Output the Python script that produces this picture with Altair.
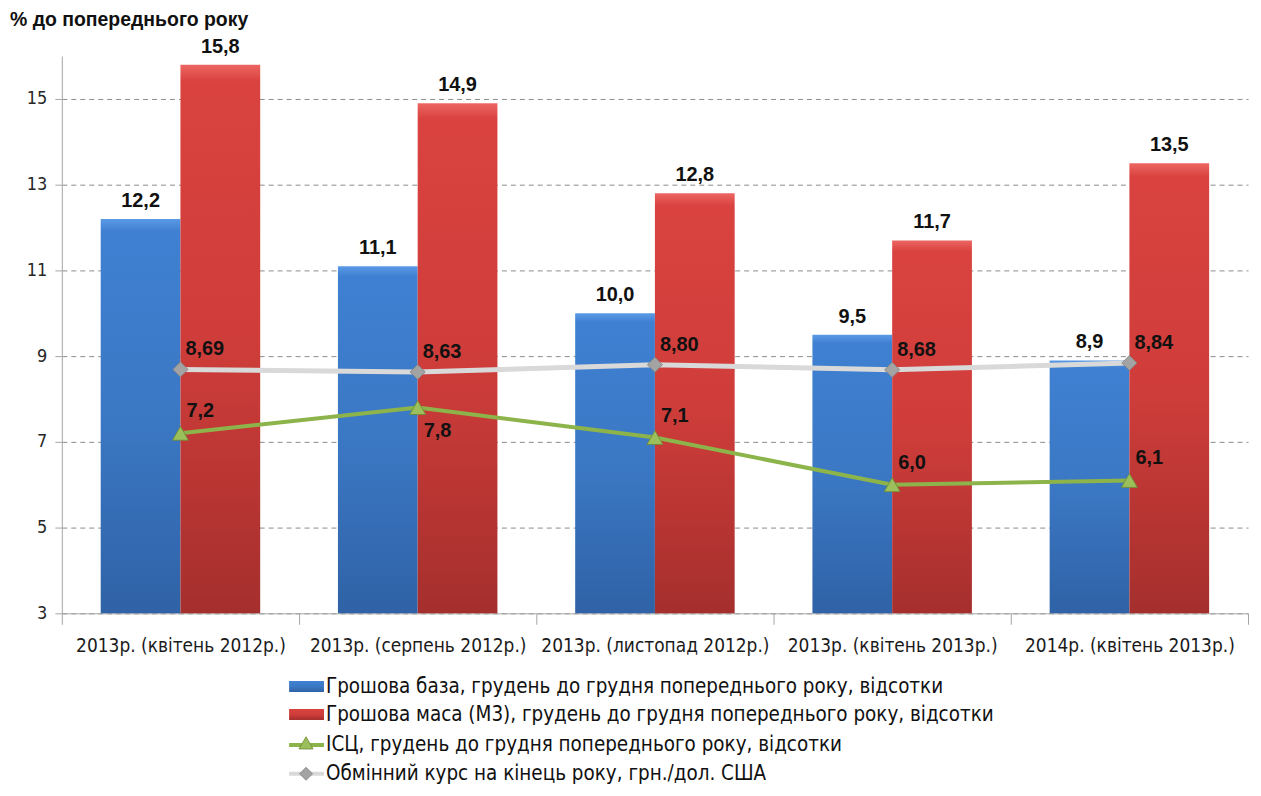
import altair as alt
import pandas as pd

categories = [
    "2013р. (квітень  2012р.)",
    "2013р. (серпень 2012р.)",
    "2013р. (листопад  2012р.)",
    "2013р. (квітень  2013р.)",
    "2014р. (квітень  2013р.)",
]
series_names = [
    "Грошова база, грудень до грудня попереднього року, відсотки",
    "Грошова маса (М3), грудень до грудня попереднього року, відсотки",
    "ІСЦ,  грудень до грудня попереднього року, відсотки",
    "Обмінний курс на кінець року, грн./дол. США",
]
money_base = [12.2, 11.1, 10.0, 9.5, 8.9]
money_m3 = [15.8, 14.9, 12.8, 11.7, 13.5]
cpi = [7.2, 7.8, 7.1, 6.0, 6.1]
fx_rate = [8.69, 8.63, 8.80, 8.68, 8.84]
y_ticks = [3, 5, 7, 9, 11, 13, 15]
y_title = "% до попереднього року"


def fmt(v, d):
    return f"{v:.{d}f}".replace(".", ",")


rows = []
for vals, name, d in [(money_base, series_names[0], 1), (money_m3, series_names[1], 1),
                      (cpi, series_names[2], 1), (fx_rate, series_names[3], 2)]:
    for c, v in zip(categories, vals):
        rows.append({"category": c, "series": name, "value": v, "label": fmt(v, d)})
df = pd.DataFrame(rows)

NARROW = "Liberation Sans Narrow, DejaVu Sans Condensed, Arial Narrow, sans-serif"
BOLD = "Liberation Sans, Arial, sans-serif"

blue_grad = alt.Gradient(gradient="linear", x1=0, x2=0, y1=0, y2=1,
                         stops=[alt.GradientStop(color="#5b9ae6", offset=0),
                                alt.GradientStop(color="#3f80d2", offset=0.03),
                                alt.GradientStop(color="#3b78c4", offset=0.5),
                                alt.GradientStop(color="#2f62a6", offset=1)])
red_grad = alt.Gradient(gradient="linear", x1=0, x2=0, y1=0, y2=1,
                        stops=[alt.GradientStop(color="#ec6662", offset=0),
                               alt.GradientStop(color="#d9423f", offset=0.03),
                               alt.GradientStop(color="#cf3d3a", offset=0.5),
                               alt.GradientStop(color="#a52f2d", offset=1)])

x_enc = alt.X("category:N", sort=categories,
              scale=alt.Scale(paddingInner=0, paddingOuter=0),
              axis=alt.Axis(title=None, labelAngle=0, tickBand="extent", tickSize=11,
                            domainColor="#a6a6a6", tickColor="#a6a6a6", grid=False,
                            labelFont=NARROW, labelFontSize=19, labelColor="#1a1a1a",
                            labelPadding=12, labelLimit=0))
y_enc = alt.Y("value:Q", scale=alt.Scale(domain=[3, 16], nice=False, zero=False),
              axis=alt.Axis(title=None, values=y_ticks, grid=True, gridDash=[5, 4],
                            gridColor="#8c8c8c", domainColor="#a6a6a6", tickColor="#a6a6a6",
                            tickSize=7, labelFont=NARROW, labelFontSize=18,
                            labelColor="#262626", labelPadding=8))
xoff = alt.XOffset("series:N", sort=series_names[:2],
                   scale=alt.Scale(domain=series_names[:2], paddingOuter=0.4875, paddingInner=0))
y2_base = alt.Y2(datum=3)

base = alt.Chart(df)

bars_blue = base.transform_filter(alt.datum.series == series_names[0]).mark_bar(
    color=blue_grad).encode(x=x_enc, y=y_enc, y2=y2_base, xOffset=xoff)
bars_red = base.transform_filter(alt.datum.series == series_names[1]).mark_bar(
    color=red_grad).encode(x=x_enc, y=y_enc, y2=y2_base, xOffset=xoff)
bar_labels = base.transform_filter(
    alt.FieldOneOfPredicate(field="series", oneOf=series_names[:2])).mark_text(
    font=BOLD, fontWeight="bold", fontSize=20, dy=-18, color="#111111").encode(
    x=x_enc, y=y_enc, xOffset=xoff, text="label:N")

fx_df = base.transform_filter(alt.datum.series == series_names[3])
fx_line = fx_df.mark_line(color="#d9d9d9", strokeWidth=5).encode(x=x_enc, y=y_enc)
fx_pts = fx_df.mark_point(shape="diamond", filled=True, size=230, color="#a3a3a3",
                          stroke="#7f7f7f", strokeWidth=0.8, opacity=1).encode(x=x_enc, y=y_enc)
fx_lab = fx_df.mark_text(font=BOLD, fontWeight="bold", fontSize=20, align="left",
                         dx=5, dy=-20, color="#111111").encode(x=x_enc, y=y_enc, text="label:N")

cpi_df = base.transform_filter(alt.datum.series == series_names[2])
cpi_line = cpi_df.mark_line(color="#8db44a", strokeWidth=4).encode(x=x_enc, y=y_enc)
cpi_pts = cpi_df.mark_point(shape="triangle-up", filled=True, size=260, color="#9cbf5c",
                            stroke="#6a8a34", strokeWidth=0.8, opacity=1).encode(x=x_enc, y=y_enc)
cpi_lab_up = cpi_df.transform_filter(alt.datum.category != categories[1]).mark_text(
    font=BOLD, fontWeight="bold", fontSize=20, align="left", dx=6, dy=-22,
    color="#111111").encode(x=x_enc, y=y_enc, text="label:N")
cpi_lab_dn = cpi_df.transform_filter(alt.datum.category == categories[1]).mark_text(
    font=BOLD, fontWeight="bold", fontSize=20, align="left", dx=6, dy=24,
    color="#111111").encode(x=x_enc, y=y_enc, text="label:N")

title_df = pd.DataFrame({"t": [y_title]})
title = alt.Chart(title_df).mark_text(font=BOLD, fontWeight="bold", fontSize=19.5,
                                      align="left", baseline="middle", color="#111111").encode(
    text="t:N", x=alt.value(-52), y=alt.value(-36))

# legend
leg_rows_y = [633, 661, 691, 720]
leg_layers = []
for i, name in enumerate(series_names):
    ydf = pd.DataFrame({"t": [name]})
    yy = leg_rows_y[i]
    leg_layers.append(alt.Chart(ydf).mark_text(font=NARROW, fontSize=20.5, align="left",
                                               baseline="middle", color="#111111").encode(
        text="t:N", x=alt.value(265), y=alt.value(yy)))
    if i < 2:
        leg_layers.append(alt.Chart(ydf).mark_rect(color=blue_grad if i == 0 else red_grad).encode(
            x=alt.value(228), x2=alt.value(263), y=alt.value(yy - 6), y2=alt.value(yy + 5)))
    else:
        col = "#8db44a" if i == 2 else "#d9d9d9"
        leg_layers.append(alt.Chart(ydf).mark_rule(color=col, strokeWidth=4).encode(
            x=alt.value(228), x2=alt.value(263), y=alt.value(yy)))
        if i == 2:
            leg_layers.append(alt.Chart(ydf).mark_point(
                shape="triangle-up", filled=True, size=200, color="#9cbf5c", stroke="#6a8a34",
                strokeWidth=0.8, opacity=1).encode(x=alt.value(245), y=alt.value(yy - 2)))
        else:
            leg_layers.append(alt.Chart(ydf).mark_point(
                shape="diamond", filled=True, size=170, color="#a3a3a3", stroke="#7f7f7f",
                strokeWidth=0.8, opacity=1).encode(x=alt.value(245), y=alt.value(yy)))

chart = alt.layer(
    bars_blue, bars_red, fx_line, cpi_line, fx_pts, cpi_pts,
    bar_labels, fx_lab, cpi_lab_up, cpi_lab_dn, title, *leg_layers
).properties(
    width=1190, height=559,
    padding={"left": 54, "top": 47, "right": 5, "bottom": 175},
    autosize=alt.AutoSizeParams(type="none"),
).configure(background="white").configure_view(stroke="transparent", strokeWidth=0)

chart.save("out.html", embed_options={"renderer": "svg", "actions": False})
